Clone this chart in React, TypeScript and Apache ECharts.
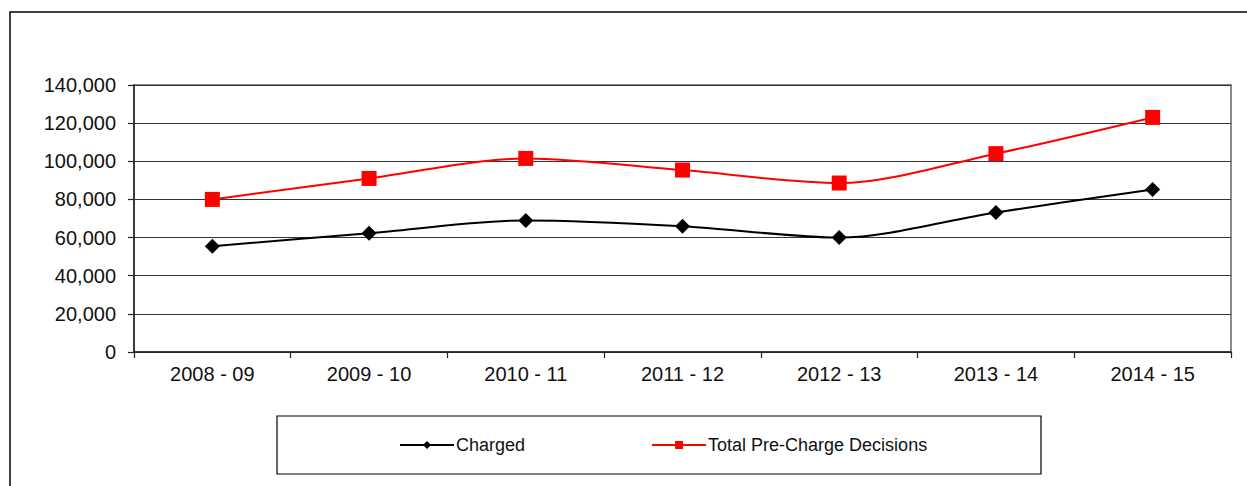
import React, { useEffect, useRef } from "react";
import * as echarts from "echarts";

const categories = ["2008 - 09", "2009 - 10", "2010 - 11", "2011 - 12", "2012 - 13", "2013 - 14", "2014 - 15"];
const charged = [55500, 62300, 69000, 66000, 60000, 73200, 85200];
const totalPreCharge = [80000, 91000, 101500, 95400, 88600, 104000, 123000];
const yTicks = { min: 0, max: 140000, interval: 20000 };

export default function App() {
  const ref = useRef<HTMLDivElement>(null);
  useEffect(() => {
    if (!ref.current) return;
    const chart = echarts.init(ref.current, null, { renderer: "svg" });
    const font = "'Liberation Sans', Arial, sans-serif";
    chart.setOption({
      animation: false,
      backgroundColor: "#ffffff",
      textStyle: { fontFamily: font },
      grid: {
        left: 134,
        top: 85,
        right: 16,
        bottom: 134,
        show: true,
        borderColor: "#8a8a8a",
        borderWidth: 2,
        containLabel: false,
      },
      graphic: [
        {
          type: "rect",
          shape: { x: 10, y: 12, width: 1400, height: 700 },
          style: { fill: "none", stroke: "#000", lineWidth: 1.5 },
          silent: true,
          z: -1,
        },
        {
          type: "rect",
          shape: { x: 277, y: 416, width: 764, height: 58 },
          style: { fill: "none", stroke: "#000", lineWidth: 1.2 },
          silent: true,
        },
      ],
      legend: {
        left: 394,
        top: 431,
        itemWidth: 54,
        itemHeight: 10,
        itemGap: 126,
        textStyle: { fontSize: 18, color: "#111", fontFamily: font, padding: [0, 0, 0, -3] },
        data: ["Charged", "Total Pre-Charge Decisions"],
      },
      xAxis: {
        type: "category",
        data: categories,
        boundaryGap: true,
        axisLine: { lineStyle: { color: "#222", width: 1.5 } },
        axisTick: { show: true, length: 6, interval: 0, lineStyle: { color: "#222", width: 1.2 } },
        axisLabel: { fontSize: 20, color: "#111", margin: 12, fontFamily: font },
      },
      yAxis: {
        type: "value",
        min: yTicks.min,
        max: yTicks.max,
        interval: yTicks.interval,
        axisLine: { show: true, lineStyle: { color: "#222", width: 1.5 } },
        axisTick: { show: true, length: 6, lineStyle: { color: "#222", width: 1.2 } },
        axisLabel: {
          fontSize: 20,
          color: "#111",
          margin: 18,
          fontFamily: font,
          formatter: (v: number) => v.toLocaleString("en-US"),
        },
        splitLine: { show: true, lineStyle: { color: "#333", width: 1.2 } },
      },
      series: [
        {
          name: "Charged",
          type: "line",
          data: charged,
          smooth: 0.3,
          symbol: "diamond",
          symbolSize: 15,
          color: "#000",
          lineStyle: { color: "#000", width: 2 },
          itemStyle: { color: "#000" },
          z: 3,
        },
        {
          name: "Total Pre-Charge Decisions",
          type: "line",
          data: totalPreCharge,
          smooth: 0.3,
          symbol: "rect",
          symbolSize: 15,
          color: "#ff0000",
          lineStyle: { color: "#ff0000", width: 2 },
          itemStyle: { color: "#ff0000" },
          z: 3,
        },
      ],
    });
    return () => chart.dispose();
  }, []);
  return <div ref={ref} style={{ position: "fixed", left: 0, top: 0, width: 1247, height: 486 }} />;
}
